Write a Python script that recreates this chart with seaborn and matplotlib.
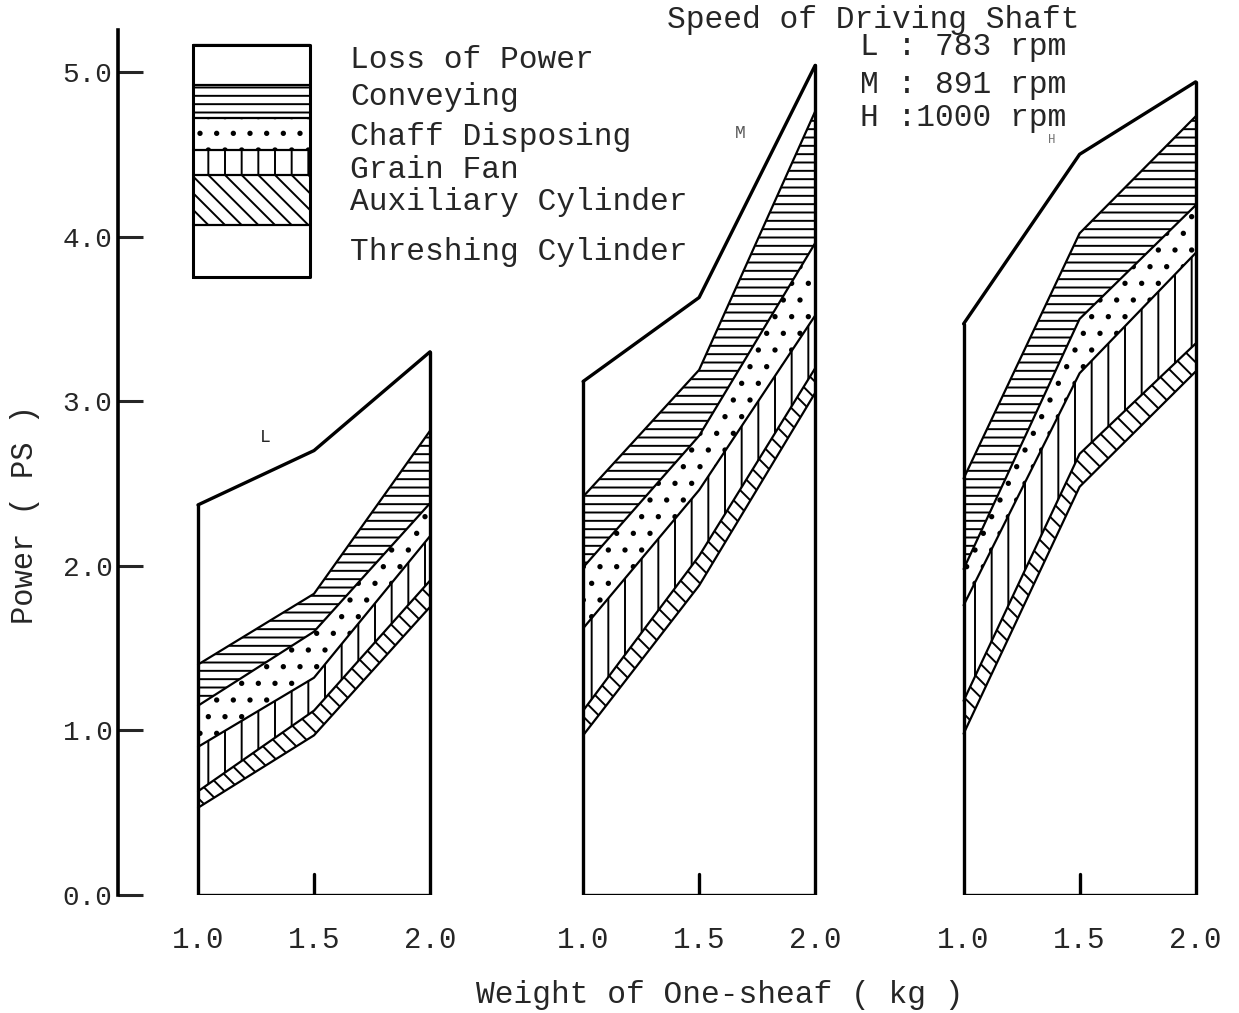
import numpy as np
import pandas as pd
import matplotlib
matplotlib.use("Agg")
import matplotlib.pyplot as plt
import seaborn as sns

# sheaf weight (kg) and the stacked power components, bottom -> top
weights = [1.0, 1.5, 2.0]
layers = ["Threshing Cylinder", "Auxiliary Cylinder", "Grain Fan",
          "Chaff Disposing", "Conveying", "Loss of Power"]

# upper edge of every layer (cumulative PS), columns = 1.0, 1.5, 2.0 kg
tops_L = [[0.53, 0.97, 1.75],
          [0.63, 1.12, 1.91],
          [0.90, 1.32, 2.18],
          [1.15, 1.60, 2.38],
          [1.40, 1.83, 2.82],
          [2.37, 2.70, 3.30]]
tops_M = [[0.97, 1.88, 3.05],
          [1.12, 2.06, 3.20],
          [1.62, 2.46, 3.52],
          [1.99, 2.79, 3.96],
          [2.42, 3.19, 4.76],
          [3.12, 3.63, 5.04]]
tops_H = [[0.98, 2.48, 3.18],
          [1.18, 2.68, 3.35],
          [1.76, 3.17, 3.90],
          [1.98, 3.50, 4.19],
          [2.53, 4.02, 4.73],
          [3.47, 4.50, 4.94]]

panels = ["L", "M", "H"]
speeds = ["L : 783 rpm", "M : 891 rpm", "H :1000 rpm"]
tick_labels = ["1.0", "1.5", "2.0"]
yticks = [0.0, 1.0, 2.0, 3.0, 4.0, 5.0]

hatches = [None, "\\\\", "|", ".", "--", None]
offsets = [0.0, 1.66, 3.30]   # where each panel sits on the shared x axis

sns.set_theme(style="white")
plt.rcParams["font.family"] = ["Liberation Mono", "DejaVu Sans Mono"]
plt.rcParams["hatch.linewidth"] = 1.4

W, H = 1239, 1013
def fx(px):
    return px / W
def fy(py):
    return 1 - py / H

fig = plt.figure(figsize=(W / 100, H / 100), dpi=100)
ax = fig.add_axes([fx(118), fy(895), fx(1239) - fx(118), fy(30) - fy(895)])
ax.set_xlim(1.0 - 80 / 232, 1.0 + (1239 - 198) / 232)
ax.set_ylim(0, 865 / 164.6)

rows = []
for name, tops, off in zip(panels, [tops_L, tops_M, tops_H], offsets):
    xs = np.array(weights) + off
    lower = np.zeros(3)
    for lay, top, hat in zip(layers, tops, hatches):
        top = np.array(top)
        ax.fill_between(xs, lower, top, facecolor="white", edgecolor="black",
                        hatch=hat, linewidth=0)
        lower = top
        for x, w, t in zip(xs, weights, top):
            rows.append(dict(panel=name, layer=lay, weight=w, x=x, top=t))
df = pd.DataFrame(rows)

for name, off in zip(panels, offsets):
    d = df[df.panel == name]
    inner = d[d.layer != "Loss of Power"]
    sns.lineplot(data=inner, x="x", y="top", hue="layer", palette=["black"] * 5,
                 estimator=None, legend=False, linewidth=1.6, ax=ax)
    outer = d[d.layer == "Loss of Power"]
    sns.lineplot(data=outer, x="x", y="top", color="black", estimator=None,
                 legend=False, linewidth=2.4, ax=ax)
    tot = outer["top"].values
    x0, x1 = weights[0] + off, weights[-1] + off
    ax.plot([x0, x0], [0, tot[0]], color="black", lw=2.4)
    ax.plot([x1, x1], [0, tot[-1]], color="black", lw=2.4)
    ax.plot([x0, x1], [0, 0], color="black", lw=2.4)
    ax.plot([1.5 + off, 1.5 + off], [0, 0.13], color="black", lw=2.4)

xt = [w + off for off in offsets for w in weights]
ax.set_xticks(xt)
ax.set_xticklabels(tick_labels * 3, fontsize=21)
ax.tick_params(axis="x", length=0, pad=22)
ax.set_yticks(yticks)
ax.set_yticklabels([f"{v:.1f}" for v in yticks], fontsize=20)
ax.tick_params(axis="y", direction="in", length=18, width=2.2, pad=4, left=True)
ax.set_xlabel("")
ax.set_ylabel("")
for s in ["top", "right", "bottom"]:
    ax.spines[s].set_visible(False)
ax.spines["left"].set_linewidth(2.6)
ax.spines["left"].set_color("black")

# legend drawn as one stacked box, like the original
box_x = (1.0 - 5 / 232, 1.0 + 112 / 232)
edges = [277, 225, 175, 150, 118, 85, 45]
for i, hat in enumerate(hatches):
    y0 = (895 - edges[i]) / 164.6
    y1 = (895 - edges[i + 1]) / 164.6
    ax.fill_between(box_x, y0, y1, facecolor="white", edgecolor="black",
                    hatch=hat, linewidth=0)
    ax.plot(box_x, [y1, y1], color="black", lw=1.6)
yb, yt = (895 - 277) / 164.6, (895 - 45) / 164.6
ax.plot([box_x[0], box_x[1], box_x[1], box_x[0], box_x[0]],
        [yb, yb, yt, yt, yb], color="black", lw=2.2)

label_y = [252, 202, 170, 137, 97, 60]
for lay, py in zip(layers, label_y):
    fig.text(fx(350), fy(py), lay, fontsize=22.5, va="center", ha="left")

fig.text(fx(667), fy(20), "Speed of Driving Shaft", fontsize=22.5, va="center")
for s, py in zip(speeds, [47, 85, 118]):
    fig.text(fx(860), fy(py), s, fontsize=22.5, va="center")

fig.text(fx(265), fy(437), "L", fontsize=13, va="center", ha="center")
fig.text(fx(740), fy(133), "M", fontsize=13, va="center", ha="center", color="0.35")
fig.text(fx(1052), fy(140), "H", fontsize=9, va="center", ha="center", color="0.45")

fig.text(fx(25), fy(515), "Power ( PS )", fontsize=22, rotation=90,
         va="center", ha="center")
fig.text(fx(720), fy(995), "Weight of One-sheaf ( kg )", fontsize=22.5,
         va="center", ha="center")

fig.savefig("out.png", dpi=100, facecolor="white")
